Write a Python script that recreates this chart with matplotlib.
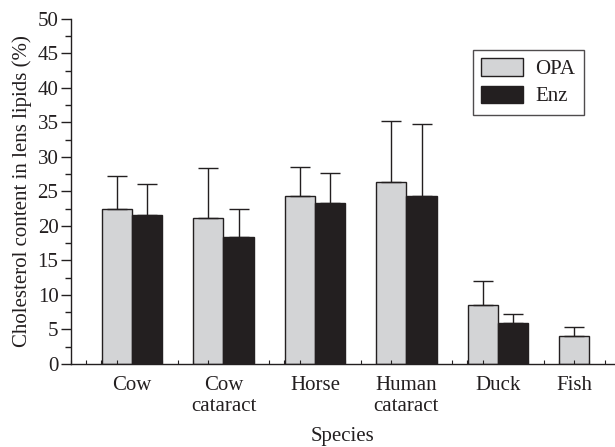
import matplotlib
matplotlib.use("Agg")
import matplotlib.pyplot as plt
import numpy as np
from matplotlib.ticker import MultipleLocator

categories = ["Cow", "Cow\ncataract", "Horse", "Human\ncataract", "Duck", "Fish"]
opa = [22.4, 21.1, 24.3, 26.4, 8.55, 4.1]
opa_err = [4.8, 7.3, 4.3, 8.8, 3.45, 1.2]
enz = [21.6, 18.4, 23.4, 24.35, 6.0]
enz_err = [4.5, 4.1, 4.3, 10.5, 1.3]

plt.rcParams['font.family'] = ['Liberation Serif', 'DejaVu Serif']
plt.rcParams['font.size'] = 15

fig = plt.figure(figsize=(6.15, 4.47), dpi=100)
ax = fig.add_axes([0.1154, 0.1857, 0.8846, 0.7718])

w = 0.33
x = np.arange(len(categories))
ex = np.arange(len(enz))
err_kw = dict(ecolor='#231f20', elinewidth=1.0, capsize=7, capthick=1.0)
ax.bar(x - w/2, opa, w, yerr=[np.zeros(len(opa)), opa_err], color='#d3d4d6',
       edgecolor='#231f20', linewidth=1.0, error_kw=err_kw, label='OPA')
ax.bar(ex + w/2, enz, w, yerr=[np.zeros(len(enz)), enz_err], color='#231f20',
       edgecolor='#231f20', linewidth=1.0, error_kw=err_kw, label='Enz')

ax.set_ylim(0, 50)
ax.set_xlim(-0.667, 5.28)
ax.yaxis.set_major_locator(MultipleLocator(5))
ax.yaxis.set_minor_locator(MultipleLocator(2.5))
ax.tick_params(axis='y', which='major', direction='out', length=7, width=1, colors='#231f20', labelcolor='#231f20', pad=2)
ax.tick_params(axis='y', which='minor', direction='out', length=4, width=1, colors='#231f20')

label_pos = [0, 1, 2, 3, 4, 4.84]
ax.set_xticks(label_pos)
ax.set_xticklabels(categories, linespacing=1.1)
ax.tick_params(axis='x', which='major', length=0, pad=9, labelcolor='#231f20')
ax.xaxis.set_minor_locator(MultipleLocator(1/6))
ax.tick_params(axis='x', which='minor', direction='in', length=3, width=0.8, colors='#231f20')

for s in ['top', 'right']:
    ax.spines[s].set_visible(False)
for s in ['left', 'bottom']:
    ax.spines[s].set_linewidth(1.0)
    ax.spines[s].set_color('#231f20')

ax.set_ylabel('Cholesterol content in lens lipids (%)', color='#231f20', labelpad=4)
ax.set_xlabel('Species', color='#231f20', labelpad=8)

leg = ax.legend(loc='upper left', bbox_to_anchor=(0.72, 0.94), frameon=True,
                fancybox=False, edgecolor='#231f20', handlelength=2.0,
                handleheight=0.9, handletextpad=0.6, borderpad=0.4,
                labelspacing=0.3, fontsize=15)
leg.get_frame().set_linewidth(1.0)
for t in leg.get_texts():
    t.set_color('#231f20')

fig.savefig('out.png', dpi=100)
